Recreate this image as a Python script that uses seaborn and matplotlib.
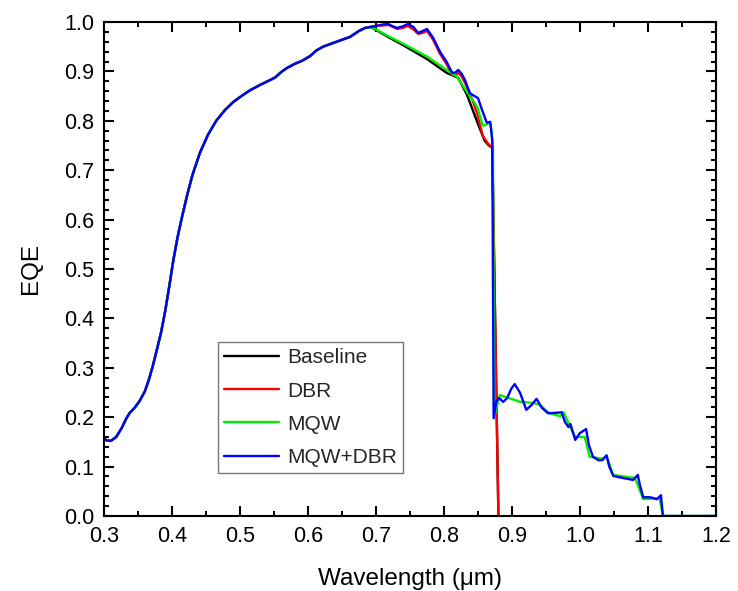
import numpy as np
import pandas as pd
import matplotlib
matplotlib.use("Agg")
import matplotlib.pyplot as plt
import seaborn as sns
from matplotlib.ticker import MultipleLocator, FormatStrFormatter

sns.set_theme(style="ticks")
plt.rcParams['font.family'] = ['Liberation Sans', 'DejaVu Sans']

# shared part of all curves (short-wavelength region)
common_x = [0.300, 0.304, 0.310, 0.318, 0.326, 0.333, 0.338, 0.345, 0.352, 0.360,
            0.366, 0.372, 0.378, 0.384, 0.390, 0.396, 0.402, 0.408, 0.415, 0.422,
            0.430, 0.441, 0.453, 0.465, 0.478, 0.490, 0.503, 0.515, 0.530, 0.545,
            0.552, 0.560, 0.568, 0.580, 0.592, 0.603, 0.612, 0.622, 0.640, 0.662,
            0.675, 0.684, 0.692]
common_y = [0.157, 0.153, 0.152, 0.160, 0.178, 0.198, 0.209, 0.219, 0.232, 0.252,
            0.276, 0.305, 0.338, 0.372, 0.415, 0.465, 0.518, 0.563, 0.607, 0.648,
            0.690, 0.735, 0.772, 0.800, 0.822, 0.838, 0.851, 0.862, 0.873, 0.883,
            0.888, 0.898, 0.906, 0.915, 0.922, 0.931, 0.942, 0.950, 0.959, 0.970,
            0.982, 0.988, 0.990]

baseline_x = [0.700, 0.720, 0.740, 0.775, 0.804, 0.821, 0.834, 0.849, 0.860, 0.866,
              0.871, 0.880]
baseline_y = [0.984, 0.968, 0.953, 0.925, 0.897, 0.887, 0.852, 0.797, 0.759, 0.750,
              0.745, 0.000]

dbr_x = [0.700, 0.710, 0.718, 0.725, 0.731, 0.739, 0.747, 0.755, 0.762, 0.769,
         0.775, 0.784, 0.794, 0.804, 0.812, 0.817, 0.821, 0.826, 0.831, 0.838,
         0.848, 0.857, 0.864, 0.871, 0.880]
dbr_y = [0.992, 0.993, 0.994, 0.990, 0.986, 0.988, 0.992, 0.985, 0.976, 0.978,
         0.982, 0.964, 0.936, 0.914, 0.893, 0.893, 0.897, 0.890, 0.876, 0.856,
         0.818, 0.770, 0.755, 0.745, 0.000]

mqw_x = [0.700, 0.720, 0.740, 0.775, 0.804, 0.819, 0.834, 0.849, 0.857, 0.862,
         0.866, 0.869, 0.872, 0.874, 0.882, 0.912, 0.931, 0.941, 0.955, 0.971,
         0.976, 0.985, 0.993, 1.007, 1.014, 1.033, 1.039, 1.049, 1.081, 1.093,
         1.117, 1.122, 1.200]
mqw_y = [0.985, 0.970, 0.956, 0.930, 0.903, 0.889, 0.858, 0.828, 0.790, 0.792,
         0.797, 0.790, 0.745, 0.200, 0.245, 0.231, 0.229, 0.225, 0.208, 0.202,
         0.210, 0.182, 0.160, 0.160, 0.120, 0.116, 0.121, 0.083, 0.077, 0.034,
         0.036, 0.000, 0.000]

mqwdbr_x = [0.700, 0.710, 0.718, 0.725, 0.731, 0.739, 0.747, 0.755, 0.762, 0.769,
            0.775, 0.784, 0.794, 0.804, 0.812, 0.817, 0.821, 0.826, 0.831, 0.838,
            0.845, 0.850, 0.857, 0.863, 0.866, 0.868, 0.871, 0.873, 0.877, 0.881,
            0.887, 0.893, 0.899, 0.904, 0.912, 0.921, 0.929, 0.936, 0.944, 0.953,
            0.966, 0.973, 0.978, 0.983, 0.986, 0.993, 1.000, 1.009, 1.013, 1.019,
            1.027, 1.033, 1.039, 1.043, 1.049, 1.063, 1.078, 1.085, 1.088, 1.093,
            1.103, 1.113, 1.119, 1.122, 1.200]
mqwdbr_y = [0.992, 0.995, 0.996, 0.991, 0.988, 0.991, 0.996, 0.990, 0.978, 0.982,
            0.986, 0.968, 0.940, 0.919, 0.897, 0.898, 0.903, 0.895, 0.882, 0.856,
            0.850, 0.846, 0.818, 0.796, 0.797, 0.798, 0.760, 0.198, 0.232, 0.239,
            0.231, 0.239, 0.258, 0.267, 0.249, 0.215, 0.225, 0.237, 0.219, 0.208,
            0.209, 0.210, 0.190, 0.180, 0.186, 0.154, 0.168, 0.176, 0.144, 0.120,
            0.113, 0.113, 0.123, 0.100, 0.081, 0.077, 0.073, 0.083, 0.063, 0.038,
            0.038, 0.034, 0.042, 0.000, 0.000]

series_names = ["Baseline", "DBR", "MQW", "MQW+DBR"]
series_colors = ["#000000", "#ff0000", "#00ee00", "#0000ff"]
series_x = [baseline_x, dbr_x, mqw_x, mqwdbr_x]
series_y = [baseline_y, dbr_y, mqw_y, mqwdbr_y]

frames = []
for name, xs, ys in zip(series_names, series_x, series_y):
    frames.append(pd.DataFrame({"wl": common_x + xs, "eqe": common_y + ys,
                                "series": name}))
df = pd.concat(frames, ignore_index=True)

fig = plt.figure(figsize=(7.38, 5.91), dpi=100)
ax = fig.add_axes([104/738, 1-516/591, 612/738, 494/591])

sns.lineplot(data=df, x="wl", y="eqe", hue="series", hue_order=series_names,
             palette=dict(zip(series_names, series_colors)), estimator=None,
             sort=False, linewidth=1.7, ax=ax)

ax.set_xlim(0.3, 1.2)
ax.set_ylim(0.0, 1.0)
ax.xaxis.set_major_locator(MultipleLocator(0.1))
ax.xaxis.set_minor_locator(MultipleLocator(0.05))
ax.yaxis.set_major_locator(MultipleLocator(0.1))
ax.yaxis.set_minor_locator(MultipleLocator(0.02))
ax.xaxis.set_major_formatter(FormatStrFormatter('%.1f'))
ax.yaxis.set_major_formatter(FormatStrFormatter('%.1f'))
ax.tick_params(which='both', direction='in', top=True, right=True, color='black',
               width=1.5)
ax.tick_params(which='major', length=7.5, labelsize=15.5, pad=7, labelcolor='black')
ax.tick_params(which='minor', length=3.5)
for s in ax.spines.values():
    s.set_linewidth(1.5)
    s.set_color('black')

ax.set_xlabel("Wavelength (μm)", fontsize=17.5, labelpad=15, color='black')
ax.set_ylabel("EQE", fontsize=17.5, labelpad=16, color='black')

leg = ax.legend(loc='upper left', bbox_to_anchor=(0.186, 0.352), borderaxespad=0,
                fontsize=15, handlelength=2.65, handletextpad=0.38,
                labelspacing=0.68, fancybox=False, frameon=True,
                borderpad=0.3)
leg.get_frame().set_edgecolor('#555555')
leg.get_frame().set_linewidth(1.0)
for line in leg.get_lines():
    line.set_linewidth(1.7)

fig.savefig("out.png", dpi=100)
